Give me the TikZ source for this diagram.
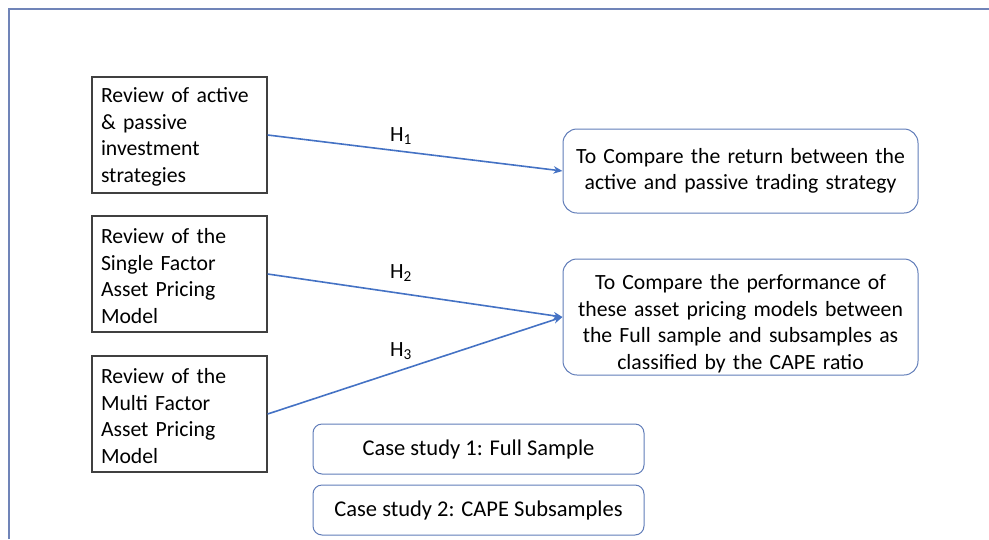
\documentclass[tikz,border=0pt]{standalone}
\usepackage{fontspec}
\setmainfont{Carlito}
\usetikzlibrary{arrows.meta}
\definecolor{framec}{RGB}{112,132,184}
\definecolor{arrowc}{RGB}{68,114,196}
\definecolor{rboxc}{RGB}{96,124,184}
\definecolor{lboxc}{RGB}{64,64,64}
\newcommand{\topstrut}[1]{\rule{0pt}{#1}}
\begin{document}
\begin{tikzpicture}[x=1pt,y=-1pt,
  every node/.style={font=\fontsize{21.7pt}{26.5pt}\selectfont},
  lbox/.style={draw=lboxc, line width=1.3pt, minimum width=175pt, minimum height=116pt, text width=157pt, inner xsep=9pt, inner ysep=0pt, align=left},
  rbox/.style={draw=rboxc, line width=1pt, rounded corners=14pt, minimum width=355pt, text width=345pt, inner xsep=5pt, inner ysep=0pt, align=center},
  cbox/.style={draw=rboxc, line width=1pt, rounded corners=9pt, minimum width=331pt, minimum height=50pt, inner sep=0pt, font=\fontsize{22.5pt}{26.5pt}\selectfont},
  link/.style={draw=arrowc, line width=1.6pt, -{Stealth[length=9pt,width=7.5pt]}},
  hlab/.style={inner sep=0pt}
]
\useasboundingbox (0,0) rectangle (989,539);
\draw[framec, line width=1.5pt] (9,539) -- (9,9) -- (989,9);

\node[lbox] (b1) at (179.5,135) {\topstrut{19pt}Review of active\\\& passive\\investment\\strategies};
\node[lbox] (b2) at (179.5,274) {\topstrut{19pt}Review of the\\Single Factor\\Asset Pricing\\Model};
\node[lbox] (b3) at (179.5,414) {\topstrut{19pt}Review of the\\Multi Factor\\Asset Pricing\\Model};

\node[rbox, minimum height=84pt] (r1) at (740.5,171) {To Compare the return between the\\active and passive trading strategy};
\node[rbox, minimum height=116pt] (r2) at (740.5,317) {\topstrut{28pt}To Compare the performance of\\these asset pricing models between\\the Full sample and subsamples as\\classified by the CAPE ratio};

\node[cbox] (c1) at (478.5,449) {Case study 1: Full Sample};
\node[cbox] (c2) at (478.5,510) {Case study 2: CAPE Subsamples};

\draw[link] (b1.east) -- (r1.west);
\draw[link] (b2.east) -- (r2.west);
\draw[link] (b3.east) -- (r2.west);

\node[hlab] (h1) at (401,136) {H\textsubscript{1}};
\node[hlab] (h2) at (401,273) {H\textsubscript{2}};
\node[hlab] (h3) at (401,351) {H\textsubscript{3}};
\end{tikzpicture}
\end{document}
